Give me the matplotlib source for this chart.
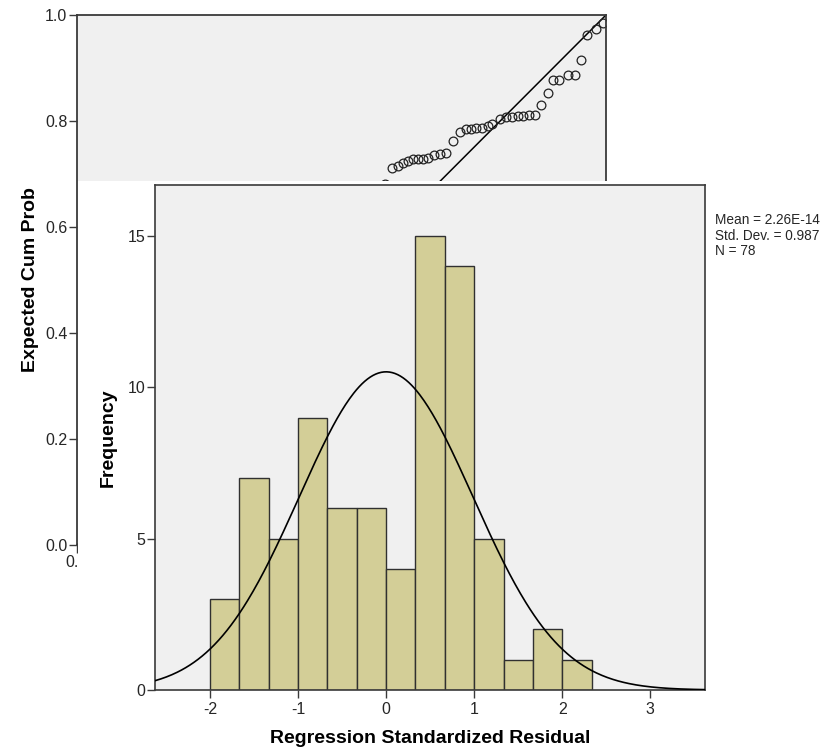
import numpy as np
import matplotlib
matplotlib.use("Agg")
import matplotlib.pyplot as plt

plt.rcParams['font.family'] = ['Liberation Sans', 'DejaVu Sans']

# P-P plot points (only the part left visible behind the histogram)
pp_observed = [0.582, 0.595, 0.606, 0.617, 0.626, 0.636, 0.645, 0.655, 0.664,
               0.675, 0.686, 0.697, 0.710, 0.724, 0.735, 0.745, 0.754, 0.765,
               0.776, 0.785, 0.799, 0.811, 0.822, 0.834, 0.844, 0.855, 0.865,
               0.877, 0.890, 0.899, 0.912, 0.929, 0.941, 0.953, 0.965, 0.981,
               0.995]
pp_expected = [0.681, 0.711, 0.715, 0.720, 0.725, 0.728, 0.728, 0.728, 0.731,
               0.735, 0.737, 0.739, 0.762, 0.780, 0.784, 0.785, 0.786, 0.787,
               0.791, 0.794, 0.804, 0.808, 0.808, 0.809, 0.809, 0.811, 0.812,
               0.831, 0.852, 0.877, 0.877, 0.886, 0.887, 0.916, 0.963, 0.973,
               0.985]
pp_ticks = [0.0, 0.2, 0.4, 0.6, 0.8, 1.0]

# histogram of standardized residuals
bin_edges = [-2.0, -1.667, -1.333, -1.0, -0.667, -0.333, 0.0, 0.333, 0.667,
             1.0, 1.333, 1.667, 2.0, 2.333]
counts = [3, 7, 5, 9, 6, 6, 4, 15, 14, 5, 1, 2, 1]
mean_resid = 2.26e-14
sd_resid = 0.987
n_obs = 78
hist_xticks = [-2, -1, 0, 1, 2, 3]
hist_yticks = [0, 5, 10, 15]

W, H = 829, 752
fig = plt.figure(figsize=(W / 100, H / 100), dpi=100)
fig.patch.set_facecolor('white')

bg = '#F0F0F0'
spine_col = '#3a3a3a'
txt_col = '#262626'

# ---- back chart: normal P-P plot ----
ax_pp = fig.add_axes([77 / W, (H - 545) / H, (606 - 77) / W, 530 / H], zorder=0)
ax_pp.set_facecolor(bg)
ax_pp.plot([0, 1], [0, 1], color='black', lw=1.1)
ax_pp.plot(pp_observed, pp_expected, 'o', mfc='none', mec='#222222', ms=6.3, mew=0.9)
ax_pp.set_xlim(0, 1)
ax_pp.set_ylim(0, 1)
ax_pp.set_xticks(pp_ticks)
ax_pp.set_xticklabels(['%.1f' % v for v in pp_ticks])
ax_pp.set_yticks(pp_ticks)
ax_pp.set_yticklabels(['%.1f' % v for v in pp_ticks])
ax_pp.tick_params(direction='out', length=6, width=1, colors=spine_col,
                  labelcolor=txt_col, labelsize=11.5, pad=1)
for s in ax_pp.spines.values():
    s.set_color(spine_col)
    s.set_linewidth(1.3)
ax_pp.set_ylabel('Expected Cum Prob', fontsize=14, fontweight='bold', labelpad=4.5)

# white screenshot pasted on top
cover = fig.add_axes([78 / W, 0, (W - 78) / W, (H - 181) / H], zorder=1)
cover.set_facecolor('white')
cover.axis('off')
cover.add_patch(plt.Rectangle((0, 0), 1, 1, transform=cover.transAxes,
                              color='white', zorder=0))

# ---- front chart: histogram ----
ax = fig.add_axes([155.3 / W, (H - 690) / H, (705 - 155.3) / W, 505 / H], zorder=2)
ax.set_facecolor(bg)
widths = np.diff(bin_edges)
ax.bar(bin_edges[:-1], counts, width=widths, align='edge', color='#D3CE97',
       edgecolor='#303030', linewidth=1.0, zorder=2)

xs = np.linspace(-2.62, 3.62, 400)
bw = 1 / 3
ys = n_obs * bw / (sd_resid * np.sqrt(2 * np.pi)) * np.exp(-0.5 * ((xs - mean_resid) / sd_resid) ** 2)
ax.plot(xs, ys, color='black', lw=1.2, zorder=3)

ax.set_xlim(-2.62, 3.62)
ax.set_ylim(0, 16.68)
ax.set_xticks(hist_xticks)
ax.set_xticklabels([str(v) for v in hist_xticks])
ax.set_yticks(hist_yticks)
ax.set_yticklabels([str(v) for v in hist_yticks])
ax.tick_params(direction='out', length=6, width=1, colors=spine_col,
               labelcolor=txt_col, labelsize=11.5)
ax.tick_params(axis='y', pad=1)
ax.tick_params(axis='x', pad=3)
for s in ax.spines.values():
    s.set_color(spine_col)
    s.set_linewidth(1.2)
ax.set_xlabel('Regression Standardized Residual', fontsize=14, fontweight='bold', labelpad=9)
ax.set_ylabel('Frequency', fontsize=14, fontweight='bold', labelpad=8)

fig.text(715 / W, 1 - 213 / H,
         'Mean = 2.26E-14\nStd. Dev. = 0.987\nN = 78',
         fontsize=9.8, color=txt_col, va='top', ha='left', linespacing=1.15)

plt.savefig('out.png', dpi=100)
